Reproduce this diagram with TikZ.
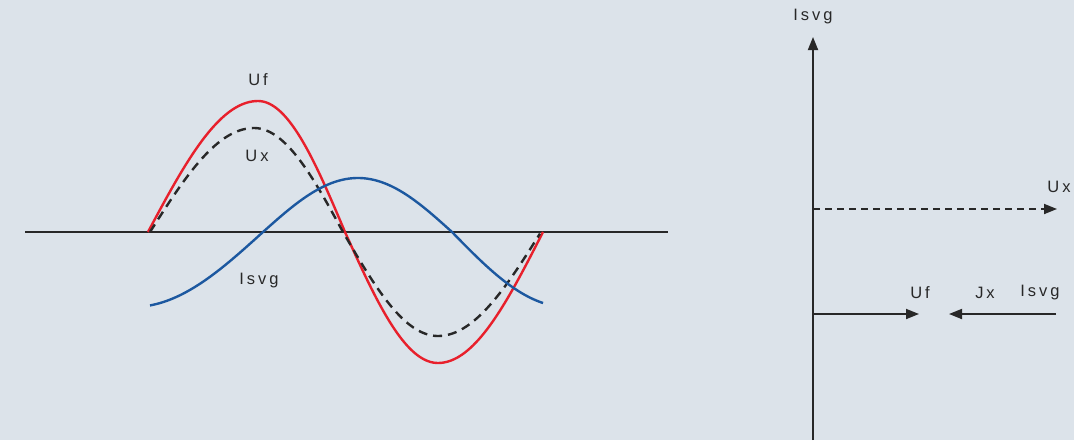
\documentclass[tikz,border=0pt]{standalone}
\usepackage{fontspec}
\setmainfont[LetterSpace=18]{Liberation Sans}
\usepackage{tikz}
\usetikzlibrary{arrows.meta}
\definecolor{bgcol}{RGB}{220,227,234}
\definecolor{ufred}{RGB}{232,32,44}
\definecolor{isblue}{RGB}{28,88,160}
\definecolor{axcol}{RGB}{40,40,40}

\begin{document}
\begin{tikzpicture}[x=1pt, y=-1pt,
  lbl/.style={font=\fontsize{16.5}{18}\selectfont, text=axcol, inner sep=0pt},
  axis/.style={axcol, line width=1.8pt},
  vec/.style={axcol, line width=1.8pt, -{Triangle[length=13pt,width=10pt]}},
  curve/.style={line width=2.4pt, line join=round, samples=40}]
  % background, fixes the size
  \fill[bgcol] (0,0) rectangle (1074,440);
  \useasboundingbox (0,0) rectangle (1074,440);

  % Time axis
  \coordinate (t0) at (25,232);
  \coordinate (t1) at (668,232);
  \draw[axis] (t0) -- (t1);

  % Uf (red), built from quarter waves
  \draw[curve, ufred]
    plot[domain=148:258] (\x, {232-131*sin(90*(\x-148)/110)})
    -- plot[domain=258:345] (\x, {232-131*cos(90*(\x-258)/87)})
    -- plot[domain=345:438] (\x, {232+131*sin(90*(\x-345)/93)})
    -- plot[domain=438:543] (\x, {232+131*cos(90*(\x-438)/105)});

  % Ux (dashed)
  \draw[curve, axcol, dash pattern=on 9pt off 6pt]
    plot[domain=150:254] (\x, {232-104*sin(90*(\x-150)/104)})
    -- plot[domain=254:343] (\x, {232-104*cos(90*(\x-254)/89)})
    -- plot[domain=343:438] (\x, {232+104*sin(90*(\x-343)/95)})
    -- plot[domain=438:540] (\x, {232+104*cos(90*(\x-438)/103)});

  % Isvg (blue)
  \draw[curve, isblue]
    plot[domain=150:263] (\x, {232+75*sin(90*(263-\x)/130)})
    -- plot[domain=263:358] (\x, {232-54*sin(90*(\x-263)/95)})
    -- plot[domain=358:452] (\x, {232-54*cos(90*(\x-358)/94)})
    -- plot[domain=452:543] (\x, {232+75*sin(90*(\x-452)/115)});

  % curve labels
  \node[lbl] (uf) at (258,80) {Uf};
  \node[lbl] (ux) at (257,156) {Ux};
  \node[lbl] (isvg) at (259,281) {Isvg};

  % Phasor diagram
  \coordinate (o) at (813,440);
  \coordinate (top) at (813,37);
  \draw[vec] (o) -- (top);
  \node[lbl] (isvgy) at (813,17) {Isvg};

  \coordinate (uxa) at (813,209);
  \coordinate (uxb) at (1057,209);
  \draw[vec, dash pattern=on 7pt off 5pt] (uxa) -- (uxb);
  \node[lbl] (uxr) at (1059,187) {Ux};

  \coordinate (ufa) at (813,314);
  \coordinate (ufb) at (919,314);
  \draw[vec] (ufa) -- (ufb);
  \node[lbl] (ufr) at (920,293) {Uf};

  \coordinate (isa) at (1056,314);
  \coordinate (isb) at (949,314);
  \draw[vec] (isa) -- (isb);
  \node[lbl] (jx) at (985,293) {Jx};
  \node[lbl] (isr) at (1040,293) {Isvg};
\end{tikzpicture}
\end{document}
